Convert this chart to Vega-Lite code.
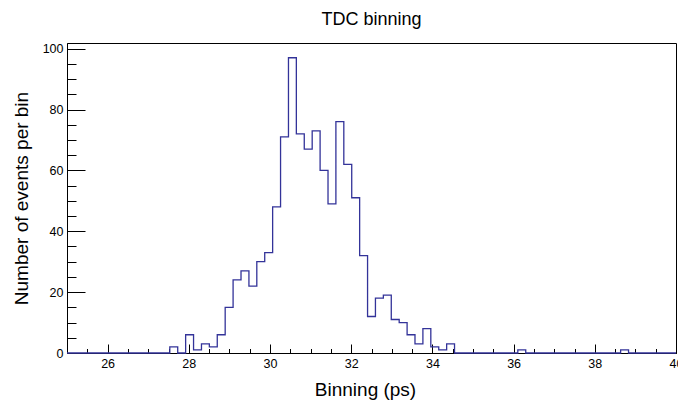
{
  "$schema": "https://vega.github.io/schema/vega-lite/v6.json",
  "autosize": {"type": "none"},
  "width": 609,
  "height": 310,
  "padding": {"left": 67, "top": 43, "right": 2, "bottom": 52},
  "background": "white",
  "config": {
    "font": "Liberation Sans",
    "view": {"stroke": "#000000", "strokeWidth": 1},
    "axis": {"domainColor": "#000000", "tickColor": "#000000", "labelColor": "#000000", "titleColor": "#000000", "grid": false}
  },
  "title": {"text": "TDC binning", "fontSize": 18, "fontWeight": "normal", "font": "Liberation Sans", "color": "#000000", "baseline": "alphabetic", "offset": 0, "anchor": "middle"},
  "data": {"values": [
    {"binning": 25.000, "count": 0},
    {"binning": 25.195, "count": 0},
    {"binning": 25.390, "count": 0},
    {"binning": 25.584, "count": 0},
    {"binning": 25.779, "count": 0},
    {"binning": 25.974, "count": 0},
    {"binning": 26.169, "count": 0},
    {"binning": 26.364, "count": 0},
    {"binning": 26.558, "count": 0},
    {"binning": 26.753, "count": 0},
    {"binning": 26.948, "count": 0},
    {"binning": 27.143, "count": 0},
    {"binning": 27.338, "count": 0},
    {"binning": 27.532, "count": 2},
    {"binning": 27.727, "count": 0},
    {"binning": 27.922, "count": 6},
    {"binning": 28.117, "count": 1},
    {"binning": 28.312, "count": 3},
    {"binning": 28.506, "count": 2},
    {"binning": 28.701, "count": 6},
    {"binning": 28.896, "count": 15},
    {"binning": 29.091, "count": 24},
    {"binning": 29.286, "count": 27},
    {"binning": 29.481, "count": 22},
    {"binning": 29.675, "count": 30},
    {"binning": 29.870, "count": 33},
    {"binning": 30.065, "count": 48},
    {"binning": 30.260, "count": 71},
    {"binning": 30.455, "count": 97},
    {"binning": 30.649, "count": 72},
    {"binning": 30.844, "count": 67},
    {"binning": 31.039, "count": 73},
    {"binning": 31.234, "count": 60},
    {"binning": 31.429, "count": 49},
    {"binning": 31.623, "count": 76},
    {"binning": 31.818, "count": 62},
    {"binning": 32.013, "count": 51},
    {"binning": 32.208, "count": 32},
    {"binning": 32.403, "count": 12},
    {"binning": 32.597, "count": 18},
    {"binning": 32.792, "count": 19},
    {"binning": 32.987, "count": 11},
    {"binning": 33.182, "count": 10},
    {"binning": 33.377, "count": 6},
    {"binning": 33.571, "count": 3},
    {"binning": 33.766, "count": 8},
    {"binning": 33.961, "count": 2},
    {"binning": 34.156, "count": 1},
    {"binning": 34.351, "count": 3},
    {"binning": 34.545, "count": 0},
    {"binning": 34.740, "count": 0},
    {"binning": 34.935, "count": 0},
    {"binning": 35.130, "count": 0},
    {"binning": 35.325, "count": 0},
    {"binning": 35.519, "count": 0},
    {"binning": 35.714, "count": 0},
    {"binning": 35.909, "count": 0},
    {"binning": 36.104, "count": 1},
    {"binning": 36.299, "count": 0},
    {"binning": 36.494, "count": 0},
    {"binning": 36.688, "count": 0},
    {"binning": 36.883, "count": 0},
    {"binning": 37.078, "count": 0},
    {"binning": 37.273, "count": 0},
    {"binning": 37.468, "count": 0},
    {"binning": 37.662, "count": 0},
    {"binning": 37.857, "count": 0},
    {"binning": 38.052, "count": 0},
    {"binning": 38.247, "count": 0},
    {"binning": 38.442, "count": 0},
    {"binning": 38.636, "count": 1},
    {"binning": 38.831, "count": 0},
    {"binning": 39.026, "count": 0},
    {"binning": 39.221, "count": 0},
    {"binning": 39.416, "count": 0},
    {"binning": 39.610, "count": 0},
    {"binning": 39.805, "count": 0},
    {"binning": 40.000, "count": 0}
  ]},
  "mark": {"type": "line", "interpolate": "step-after", "color": "#333399", "strokeWidth": 1.3},
  "encoding": {
    "x": {
      "field": "binning", "type": "quantitative",
      "scale": {"domain": [25, 40], "nice": false, "zero": false},
      "axis": {
        "title": "Binning (ps)", "titleFontSize": 19, "titleFontWeight": "normal", "titlePadding": 6, "titleX": 298,
        "values": [25, 25.5, 26, 26.5, 27, 27.5, 28, 28.5, 29, 29.5, 30, 30.5, 31, 31.5, 32, 32.5, 33, 33.5, 34, 34.5, 35, 35.5, 36, 36.5, 37, 37.5, 38, 38.5, 39, 39.5, 40],
        "labelExpr": "datum.value % 2 === 0 ? format(datum.value, 'd') : ''",
        "tickSize": {"condition": {"test": "datum.value % 2 === 0", "value": -9}, "value": -4.5},
        "labelFontSize": 12.5, "labelPadding": 13, "labelFlush": false, "labelOverlap": false, "labelBound": false
      }
    },
    "y": {
      "field": "count", "type": "quantitative",
      "scale": {"domain": [0, 101.85], "nice": false},
      "axis": {
        "title": "Number of events per bin", "titleFontSize": 19, "titleFontWeight": "normal", "titlePadding": 11,
        "values": [0, 5, 10, 15, 20, 25, 30, 35, 40, 45, 50, 55, 60, 65, 70, 75, 80, 85, 90, 95, 100],
        "labelExpr": "datum.value % 20 === 0 ? format(datum.value, 'd') : ''",
        "tickSize": {"condition": {"test": "datum.value % 20 === 0", "value": -18}, "value": -9},
        "labelFontSize": 12.5, "labelPadding": 22, "labelOverlap": false, "labelBound": false
      }
    }
  }
}
